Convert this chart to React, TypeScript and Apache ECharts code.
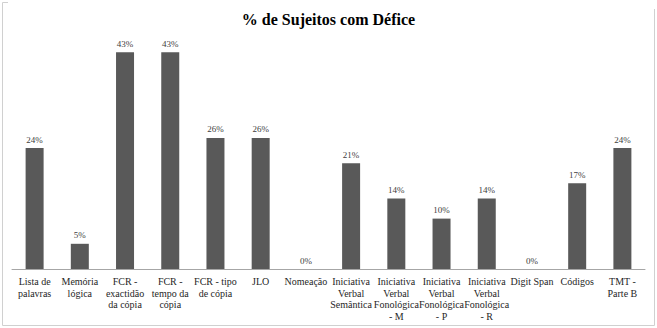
import React, { useEffect, useRef } from "react";
import * as echarts from "echarts";

const categories = [
  "Lista de\npalavras",
  "Memória\nlógica",
  "FCR -\nexactidão\nda cópia",
  "FCR -\ntempo da\ncópia",
  "FCR - tipo\nde cópia",
  "JLO",
  "Nomeação",
  "Iniciativa\nVerbal\nSemântica",
  "Iniciativa\nVerbal\nFonológica\n- M",
  "Iniciativa\nVerbal\nFonológica\n- P",
  "Iniciativa\nVerbal\nFonológica\n- R",
  "Digit Span",
  "Códigos",
  "TMT -\nParte B",
];

const percentages = [24, 5, 43, 43, 26, 26, 0, 21, 14, 10, 14, 0, 17, 24];

const FONT = "Liberation Serif";

export default function App() {
  const ref = useRef<HTMLDivElement>(null);

  useEffect(() => {
    if (!ref.current) return;
    const chart = echarts.init(ref.current, undefined, { renderer: "svg" });
    chart.setOption({
      animation: false,
      backgroundColor: "#ffffff",
      textStyle: { fontFamily: FONT },
      title: {
        text: "% de Sujeitos com Défice",
        left: "center",
        top: 6,
        textStyle: {
          fontFamily: FONT,
          fontSize: 16,
          fontWeight: "bold",
          color: "#000000",
        },
      },
      grid: { left: 12, right: 12, top: 17, bottom: 59 },
      xAxis: {
        type: "category",
        data: categories,
        axisLine: { show: true, lineStyle: { color: "#a6a6a6", width: 1 } },
        axisTick: { show: false },
        axisLabel: {
          interval: 0,
          fontFamily: FONT,
          fontSize: 10,
          color: "#262626",
          lineHeight: 11.5,
          margin: 7,
        },
      },
      yAxis: {
        type: "value",
        min: 0,
        max: 50,
        show: false,
        splitLine: { show: false },
      },
      series: [
        {
          type: "bar",
          data: percentages,
          barWidth: 18,
          itemStyle: { color: "#595959" },
          label: {
            show: true,
            position: "top",
            distance: 4,
            formatter: "{c}%",
            fontFamily: FONT,
            fontSize: 9,
            color: "#404040",
          },
        },
      ],
      graphic: [
        {
          type: "polyline",
          shape: { points: [[8, 2.5], [2.5, 2.5], [2.5, 325.5], [654.5, 325.5], [654.5, 9]] },
          style: { stroke: "#d0d0d0", fill: "none", lineWidth: 1 },
          silent: true,
        },
      ],
    });
    return () => chart.dispose();
  }, []);

  return (
    <div
      ref={ref}
      style={{ position: "fixed", left: 0, top: 0, width: 657, height: 328 }}
    />
  );
}
